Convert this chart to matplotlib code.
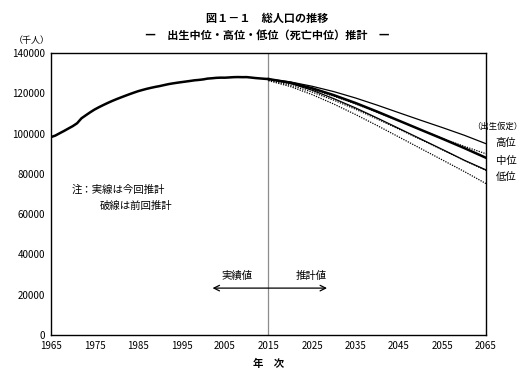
import matplotlib
matplotlib.use("Agg")
import matplotlib.pyplot as plt

plt.rcParams['font.family'] = ['Noto Sans CJK JP', 'DejaVu Sans']

# actual population (thousands)
years_actual = list(range(1965, 2016))
pop_actual = [98275, 99036, 100196, 101331, 102536, 103720, 105145, 107595, 109104, 110573,
              111940, 113094, 114165, 115190, 116155, 117060, 117902, 118728, 119536, 120305,
              121049, 121660, 122239, 122745, 123205, 123611, 124101, 124567, 124938, 125265,
              125570, 125859, 126157, 126472, 126667, 126926, 127316, 127486, 127694, 127787,
              127768, 127901, 128033, 128084, 128032, 128057, 127834, 127593, 127414, 127237,
              127095]

# projections (current = solid, previous = dotted)
years_proj = [2015, 2020, 2025, 2030, 2035, 2040, 2045, 2050, 2055, 2060, 2065]
cur_high = [127095, 125680, 123530, 120870, 117700, 114140, 110370, 106640, 102990, 99200, 95000]
cur_mid = [127095, 125325, 122544, 119125, 115216, 110919, 106421, 101923, 97441, 92840, 88000]
cur_low = [127095, 124970, 121560, 117380, 112780, 107740, 102560, 97350, 92120, 86790, 82000]
prev_high = [126930, 124900, 122000, 118600, 114800, 110600, 106300, 101900, 97600, 93700, 90000]
prev_mid = [126597, 124100, 120659, 116618, 112124, 107276, 102210, 97076, 91933, 86737, 81700]
prev_low = [126300, 123400, 119400, 114700, 109500, 104000, 98300, 92600, 86900, 81200, 75200]

xticks = list(range(1965, 2066, 10))
yticks = list(range(0, 140001, 20000))

fig = plt.figure(figsize=(5.23, 3.79), dpi=100)
ax = fig.add_axes([0.0975, 0.116, 0.8317, 0.744])

ax.axvline(2015, color="#8c8c8c", lw=0.9, zorder=1)

ax.plot(years_actual, pop_actual, color="black", lw=1.8)
for vals in (prev_high, prev_mid, prev_low):
    ax.plot(years_proj, vals, color="black", lw=0.9, ls=(0, (1, 1)))
ax.plot(years_proj, cur_high, color="black", lw=0.9)
ax.plot(years_proj, cur_low, color="black", lw=0.9)
ax.plot(years_proj, cur_mid, color="black", lw=1.8)

ax.set_xlim(1965, 2065)
ax.set_ylim(0, 140000)
ax.set_xticks(xticks)
ax.set_yticks(yticks)
ax.tick_params(length=0, labelsize=7, pad=4)
for s in ax.spines.values():
    s.set_linewidth(1.0)

ax.set_xlabel("年　次", fontsize=7.5, fontweight="bold", labelpad=6)

# arrow between actual / projected
ax.annotate("", xy=(2001.5, 23300), xytext=(2029.1, 23300),
            arrowprops=dict(arrowstyle="<->", color="black", lw=0.9))
ax.text(2007.8, 29300, "実績値", fontsize=7.5, ha="center", va="center")
ax.text(2024.8, 29300, "推計値", fontsize=7.5, ha="center", va="center")

ax.text(1969.8, 72000, "注：実線は今回推計", fontsize=7.5, ha="left", va="center")
ax.text(1976.3, 64000, "破線は前回推計", fontsize=7.5, ha="left", va="center")

# labels outside right
fig.text(497 / 523, 1 - 126 / 379, "（出生仮定）", fontsize=6, ha="center", va="center")
fig.text(506 / 523, 1 - 143 / 379, "高位", fontsize=7.5, ha="center", va="center")
fig.text(506 / 523, 1 - 161 / 379, "中位", fontsize=7.5, ha="center", va="center")
fig.text(506 / 523, 1 - 177 / 379, "低位", fontsize=7.5, ha="center", va="center")

fig.text(32 / 523, 1 - 40 / 379, "（千人）", fontsize=6.5, ha="center", va="center")

fig.text(267 / 523, 1 - 18 / 379, "図１－１　総人口の推移", fontsize=8, fontweight="bold",
         ha="center", va="center")
fig.text(267 / 523, 1 - 35 / 379, "―　出生中位・高位・低位（死亡中位）推計　―", fontsize=8,
         fontweight="bold", ha="center", va="center")

fig.savefig("out.png", dpi=100)
